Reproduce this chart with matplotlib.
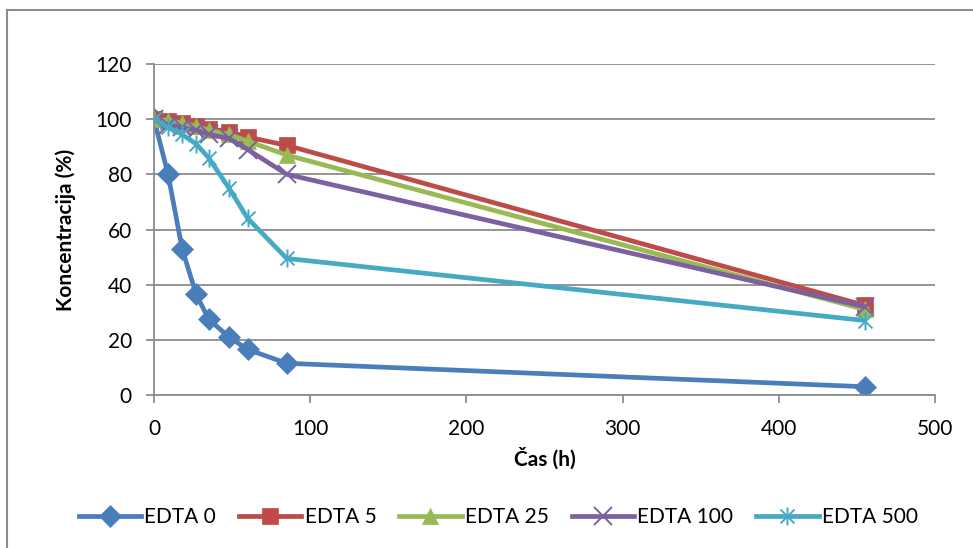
import matplotlib.pyplot as plt
from matplotlib.path import Path
from matplotlib.lines import Line2D

plt.rcParams['font.family'] = ['Lato', 'DejaVu Sans']

# casi meritev (h)
cas = [0, 9, 18, 27, 35, 48, 60, 85, 455]

edta0 = [100, 80, 53, 36.5, 27.5, 21, 16.5, 11.5, 3]
edta5 = [100, 99.5, 98.5, 97.5, 96.5, 95.5, 93.5, 90.5, 32.5]
edta25 = [100, 99.5, 98.5, 97.5, 96, 94.5, 92, 87, 31]
edta100 = [100, 98, 97, 96, 94.5, 93, 89, 80, 32]
edta500 = [100, 97, 94.5, 91, 86, 75, 64, 49.5, 27]

oznake = ['EDTA 0', 'EDTA 5', 'EDTA 25', 'EDTA 100', 'EDTA 500']
barve = ['#4A7EBB', '#BE4B48', '#98B954', '#7D60A0', '#46AAC5']

# zvezdica kot v Excelu: x + navpicna crta
zvezda = Path([(-1, -1), (1, 1), (-1, 1), (1, -1), (0, -1.3), (0, 1.3)],
              [Path.MOVETO, Path.LINETO, Path.MOVETO, Path.LINETO, Path.MOVETO, Path.LINETO])

fig = plt.figure(figsize=(9.73, 5.48), dpi=100)
ax = fig.add_axes([154 / 973, 1 - 395 / 548, (935 - 154) / 973, (395 - 64) / 548])

podatki = [edta0, edta5, edta25, edta100, edta500]
markerji = ['D', 's', '^', 'x', zvezda]
velikosti = [11, 11.5, 12, 13, 13]
for y, lab, c, m, ms in zip(podatki, oznake, barve, markerji, velikosti):
    tanek = m == 'x' or m is zvezda
    ax.plot(cas, y, color=c, linewidth=3.4, marker=m, markersize=ms,
            markeredgewidth=1.4 if tanek else 0.5, markeredgecolor=c, label=lab)

ax.set_xlim(0, 500)
ax.set_ylim(0, 120)
ax.set_xticks(range(0, 501, 100))
ax.set_yticks(range(0, 121, 20))
ax.yaxis.grid(True, color='#8C8C8C', linewidth=1.3)
ax.set_axisbelow(True)
for s in ['top', 'right']:
    ax.spines[s].set_visible(False)
for s in ['left', 'bottom']:
    ax.spines[s].set_color('#8C8C8C')
    ax.spines[s].set_linewidth(1.3)
ax.tick_params(axis='both', colors='#8C8C8C', labelcolor='black', labelsize=15,
               length=6, width=1.3, direction='out')
ax.tick_params(axis='y', pad=10)
ax.tick_params(axis='x', pad=11)

ax.set_xlabel('Čas (h)', fontsize=15, fontweight='bold', labelpad=6)
ax.set_ylabel('Koncentracija (%)', fontsize=15, fontweight='bold', labelpad=14)

fig.legend(loc='center', bbox_to_anchor=(0.512, 1 - 517 / 548), ncol=5, frameon=False,
           fontsize=15, handlelength=3.0, columnspacing=1.1, handletextpad=0.15)

# okvir grafikona (samo zgoraj in levo)
fig.add_artist(Line2D([7 / 973, 7 / 973], [0, 1 - 10 / 548], transform=fig.transFigure,
                      color='#8C8C8C', linewidth=1.5))
fig.add_artist(Line2D([7 / 973, 1], [1 - 10 / 548, 1 - 10 / 548], transform=fig.transFigure,
                      color='#8C8C8C', linewidth=1.5))

plt.savefig('out.png', dpi=100)
